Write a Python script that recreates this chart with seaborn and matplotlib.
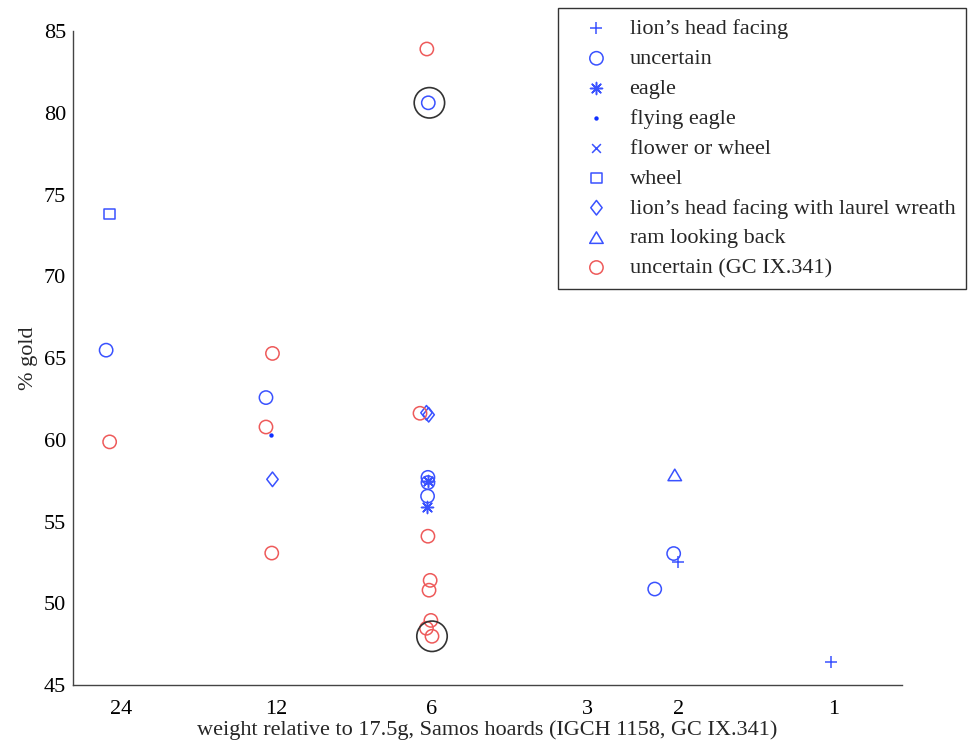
import numpy as np
import pandas as pd
import matplotlib
matplotlib.use("Agg")
import matplotlib.pyplot as plt
import seaborn as sns
from matplotlib.path import Path

# ---- data ----
lion_x = [2.00, 1.01]
lion_y = [52.52, 46.38]

unc_x = [25.7, 12.59, 6.10, 6.11, 6.11, 6.12, 2.04, 2.22]
unc_y = [65.48, 62.58, 80.61, 57.70, 57.38, 56.55, 53.04, 50.87]

eagle_x = [6.11, 6.13]
eagle_y = [57.46, 55.89]

fly_x = [12.32]
fly_y = [60.27]

flower_x = [6.11]
flower_y = [57.50]

wheel_x = [25.3]
wheel_y = [73.8]

laurel_x = [12.23, 6.15, 6.09]
laurel_y = [57.58, 61.65, 61.53]

ram_x = [2.03]
ram_y = [57.85]

gc_x = [25.3, 12.23, 12.59, 12.27, 6.14, 6.33, 6.11, 6.05, 6.08, 6.03, 6.15, 6.00]
gc_y = [59.87, 65.28, 60.78, 53.07, 83.9, 61.62, 54.1, 51.4, 50.8, 48.95, 48.47, 47.98]

hl_x = [6.07, 6.00]
hl_y = [80.61, 47.98]

xticks = [24, 12, 6, 3, 2, 1]
yticks = [45, 50, 55, 60, 65, 70, 75, 80, 85]

BLUE = "#3a52ff"
RED = "#ee5a5a"

diamond = Path([(0, 1), (0.78, 0), (0, -1), (-0.78, 0), (0, 1)],
               [Path.MOVETO, Path.LINETO, Path.LINETO, Path.LINETO, Path.CLOSEPOLY])
triangle = Path([(0, 0.85), (1.0, -0.85), (-1.0, -0.85), (0, 0.85)],
                [Path.MOVETO, Path.LINETO, Path.LINETO, Path.CLOSEPOLY])

sns.set_style("white")
plt.rcParams["font.family"] = ["Liberation Serif", "DejaVu Serif"]
plt.rcParams["mathtext.fontset"] = "stix"

FS = 16

fig = plt.figure(figsize=(9.69, 7.44), dpi=100)
ax = fig.add_axes([0.0753, 0.0793, 0.8556, 0.879])

groups = [
    ("lion\u2019s head facing", lion_x, lion_y, "+", 85, BLUE, False),
    ("uncertain", unc_x, unc_y, "o", 92, BLUE, True),
    ("eagle", eagle_x, eagle_y, (8, 2, 0), 75, BLUE, False),
    ("flying eagle", fly_x, fly_y, "o", 10, "#1030ff", "solid"),
    ("flower or wheel", flower_x, flower_y, "x", 40, BLUE, False),
    ("wheel", wheel_x, wheel_y, "s", 58, BLUE, True),
    ("lion\u2019s head facing with laurel wreath", laurel_x, laurel_y, diamond, 110, BLUE, True),
    ("ram looking back", ram_x, ram_y, triangle, 95, BLUE, True),
    ("uncertain (GC IX.341)", gc_x, gc_y, "o", 92, RED, True),
]

for label, xs, ys, mk, s, c, filled in groups:
    df = pd.DataFrame({"x": xs, "y": ys})
    if filled == "solid":
        sns.scatterplot(data=df, x="x", y="y", marker=mk, s=s, color=c,
                        edgecolor=c, linewidth=0, label=label, ax=ax, zorder=3)
    elif filled:
        sns.scatterplot(data=df, x="x", y="y", marker=mk, s=s, facecolor="none",
                        edgecolor=c, linewidth=1.1, label=label, ax=ax, zorder=3)
    else:
        sns.scatterplot(data=df, x="x", y="y", marker=mk, s=s, color=c,
                        linewidth=1.1, label=label, ax=ax, zorder=3)

hl = pd.DataFrame({"x": hl_x, "y": hl_y})
sns.scatterplot(data=hl, x="x", y="y", marker="o", s=480, facecolor="none",
                edgecolor="#333333", linewidth=1.2, ax=ax, legend=False, zorder=4)

ax.set_xscale("log", base=2)
ax.set_xlim(29.8, 0.736)
ax.set_ylim(45, 85)
ax.set_xticks(xticks)
ax.set_xticklabels([str(t) for t in xticks])
ax.minorticks_off()
ax.set_yticks(yticks)
ax.set_yticklabels([str(t) for t in yticks])

for side in ["top", "right"]:
    ax.spines[side].set_visible(False)
for side in ["left", "bottom"]:
    ax.spines[side].set_color("#444444")
    ax.spines[side].set_linewidth(1.0)

ax.tick_params(axis="both", direction="in", length=6, width=1.0, color="#555555",
               labelsize=FS, labelcolor="black")
ax.tick_params(axis="x", pad=10.5)
ax.tick_params(axis="y", pad=5)

ax.set_xlabel("weight relative to 17.5g, Samos hoards (IGCH 1158, GC IX.341)",
              fontsize=FS, labelpad=1)
ax.set_ylabel("% gold", fontsize=FS, labelpad=4)

leg = ax.legend(loc="upper left", bbox_to_anchor=(558 / 969, 1 - 8 / 744),
                bbox_transform=fig.transFigure, fontsize=FS, frameon=True,
                fancybox=False, edgecolor="#333333", framealpha=1,
                borderpad=0.48, labelspacing=0.42, handlelength=2.5,
                handletextpad=0.24, scatterpoints=1, borderaxespad=0)
leg.get_frame().set_linewidth(1.0)

fig.savefig("out.png", dpi=100)
